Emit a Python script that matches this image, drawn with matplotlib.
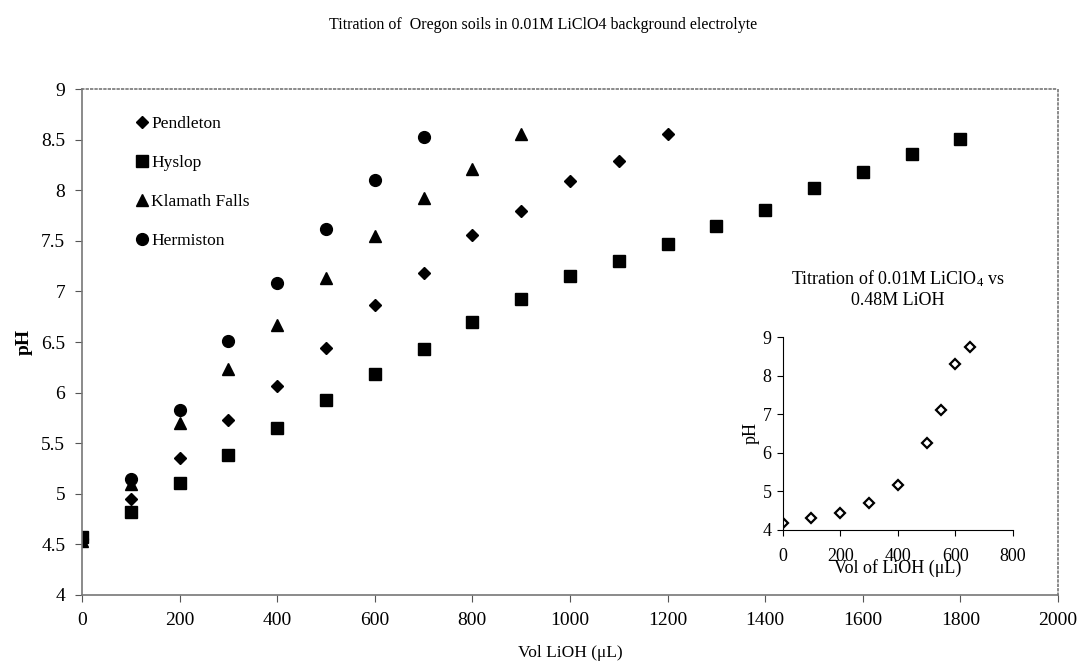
import numpy as np
import matplotlib
matplotlib.use('Agg')
import matplotlib.pyplot as plt

plt.rcParams['font.family'] = ['Liberation Serif', 'DejaVu Serif']
plt.rcParams['mathtext.fontset'] = 'custom'
plt.rcParams['mathtext.rm'] = 'Liberation Serif'
plt.rcParams['mathtext.default'] = 'regular'

# Soil titrations (vol LiOH in uL, pH)
pend_x = [0, 100, 200, 300, 400, 500, 600, 700, 800, 900, 1000, 1100, 1200]
pend_y = [4.55, 4.95, 5.35, 5.73, 6.07, 6.44, 6.87, 7.18, 7.56, 7.80, 8.09, 8.29, 8.56]

hys_x = [0, 100, 200, 300, 400, 500, 600, 700, 800, 900, 1000, 1100, 1200,
         1300, 1400, 1500, 1600, 1700, 1800]
hys_y = [4.57, 4.82, 5.11, 5.38, 5.65, 5.93, 6.18, 6.43, 6.70, 6.93, 7.15, 7.30,
         7.47, 7.65, 7.81, 8.02, 8.18, 8.36, 8.51]

klam_x = [0, 100, 200, 300, 400, 500, 600, 700, 800, 900]
klam_y = [4.53, 5.10, 5.70, 6.23, 6.67, 7.13, 7.55, 7.92, 8.21, 8.56]

herm_x = [0, 100, 200, 300, 400, 500, 600, 700]
herm_y = [4.55, 5.15, 5.83, 6.51, 7.08, 7.62, 8.10, 8.53]

# Background electrolyte alone
bg_x = [0, 100, 200, 300, 400, 500, 550, 600, 650]
bg_y = [4.19, 4.30, 4.45, 4.71, 5.17, 6.25, 7.11, 8.30, 8.73]

fig = plt.figure(figsize=(10.87, 6.70), dpi=100)
ax = fig.add_axes([0.0754, 0.112, 0.8979, 0.755])

ax.plot(pend_x, pend_y, 'D', color='black', ms=6.5, ls='none', label='Pendleton')
ax.plot(hys_x, hys_y, 's', color='black', ms=8.5, ls='none', label='Hyslop')
ax.plot(klam_x, klam_y, '^', color='black', ms=9, ls='none', label='Klamath Falls')
ax.plot(herm_x, herm_y, 'o', color='black', ms=8.5, ls='none', label='Hermiston')

ax.set_xlim(0, 2000)
ax.set_ylim(4, 9)
ax.set_xticks(np.arange(0, 2001, 200))
ax.set_yticks(np.arange(4, 9.01, 0.5))
ax.set_yticklabels(['4', '4.5', '5', '5.5', '6', '6.5', '7', '7.5', '8', '8.5', '9'])
ax.tick_params(labelsize=14, direction='out', length=5, color='#555555', pad=7)
for s in ax.spines.values():
    s.set_color('#777777')
    s.set_linestyle(':')
    s.set_linewidth(1.2)
ax.spines['left'].set_linestyle('-')
ax.spines['bottom'].set_linestyle('-')
ax.set_xlabel('Vol LiOH (\u03bcL)', fontsize=12.5, labelpad=12)
ax.set_ylabel('pH', fontsize=14, fontweight='bold', labelpad=6)

ax.legend(loc='upper left', bbox_to_anchor=(0.045, 0.96), frameon=False,
          fontsize=12.5, handletextpad=0.05, labelspacing=1.3, handlelength=1.0,
          borderaxespad=0)

fig.suptitle('Titration of  Oregon soils in 0.01M LiClO4 background electrolyte',
             fontsize=11.5, y=0.975)

# inset
ins = fig.add_axes([0.720, 0.209, 0.212, 0.288])
ins.plot(bg_x, bg_y, 'D', mfc='white', mec='black', mew=1.6, ms=5.5, ls='none')
ins.set_xlim(0, 800)
ins.set_ylim(4, 9)
ins.set_xticks([0, 200, 400, 600, 800])
ins.set_yticks([4, 5, 6, 7, 8, 9])
ins.spines['top'].set_visible(False)
ins.spines['right'].set_visible(False)
ins.tick_params(labelsize=13, direction='out', length=4, pad=4)
ins.tick_params(axis='x', pad=9)
ins.set_xlabel('Vol of LiOH (\u03bcL)', fontsize=13, labelpad=-4)
ins.set_ylabel('pH', fontsize=13, labelpad=2)
ins.set_title('Titration of 0.01M LiClO$_4$ vs\n0.48M LiOH', fontsize=13, pad=23)

fig.savefig('out.png', dpi=100)
